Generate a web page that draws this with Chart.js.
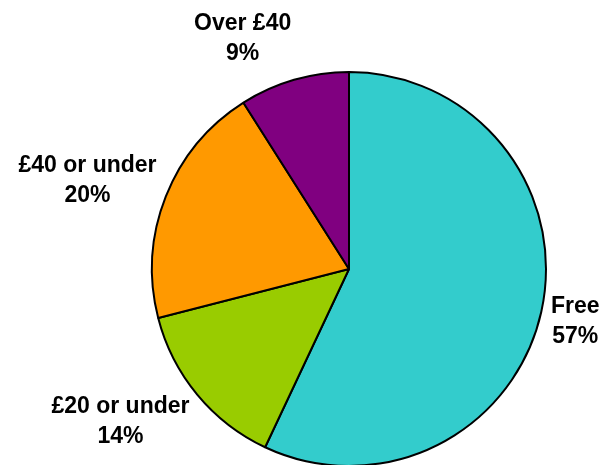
<!DOCTYPE html>
<html>
<head>
<meta charset="utf-8">
<script src="https://cdn.jsdelivr.net/npm/chart.js@4/dist/chart.umd.min.js"></script>
<style>
  html, body { margin: 0; padding: 0; background: #fff; overflow: hidden; }
  #wrap { width: 602px; height: 480px; position: relative; }
</style>
</head>
<body>
<div id="wrap"><canvas id="pieChart"></canvas></div>
<script>
const categories = ['Free', '£20 or under', '£40 or under', 'Over £40'];
const shares = [57, 14, 20, 9];
const sliceColors = ['#33CCCC', '#99CC00', '#FF9900', '#800080'];

// labels sit just outside the rim, aligned away from the pie
const outsideLabels = {
  id: 'outsideLabels',
  afterDraw(chart) {
    const ctx = chart.ctx;
    const meta = chart.getDatasetMeta(0);
    const gap = 10;
    const lineH = 30;
    ctx.save();
    ctx.font = 'bold 23px "Liberation Sans", Arial, sans-serif';
    ctx.fillStyle = '#000';
    ctx.textBaseline = 'middle';
    meta.data.forEach((arc, i) => {
      const p = arc.getProps(['x', 'y', 'startAngle', 'endAngle', 'outerRadius'], true);
      const mid = (p.startAngle + p.endAngle) / 2;
      const dx = Math.cos(mid), dy = Math.sin(mid);
      const ax = p.x + dx * (p.outerRadius + gap);
      const ay = p.y + dy * (p.outerRadius + gap);
      const cy = ay + dy * 33;
      const lines = [categories[i], shares[i] + '%'];
      // second line is centred under the first
      const w = ctx.measureText(lines[0]).width;
      let cx = ax;
      if (dx > 0.2) cx = ax + w / 2;
      if (dx < -0.2) cx = ax - w / 2;
      ctx.textAlign = 'center';
      ctx.fillText(lines[0], cx, cy - lineH / 2);
      ctx.fillText(lines[1], cx, cy + lineH / 2);
    });
    ctx.restore();
  }
};

new Chart(document.getElementById('pieChart'), {
  type: 'pie',
  data: {
    labels: categories,
    datasets: [{
      data: shares,
      backgroundColor: sliceColors,
      borderColor: '#000',
      borderWidth: 2
    }]
  },
  options: {
    responsive: true,
    maintainAspectRatio: false,
    animation: false,
    layout: { padding: { left: 96, right: 0, top: 71, bottom: 13 } },
    plugins: {
      legend: { display: false },
      tooltip: { enabled: false }
    }
  },
  plugins: [outsideLabels]
});
</script>
</body>
</html>
